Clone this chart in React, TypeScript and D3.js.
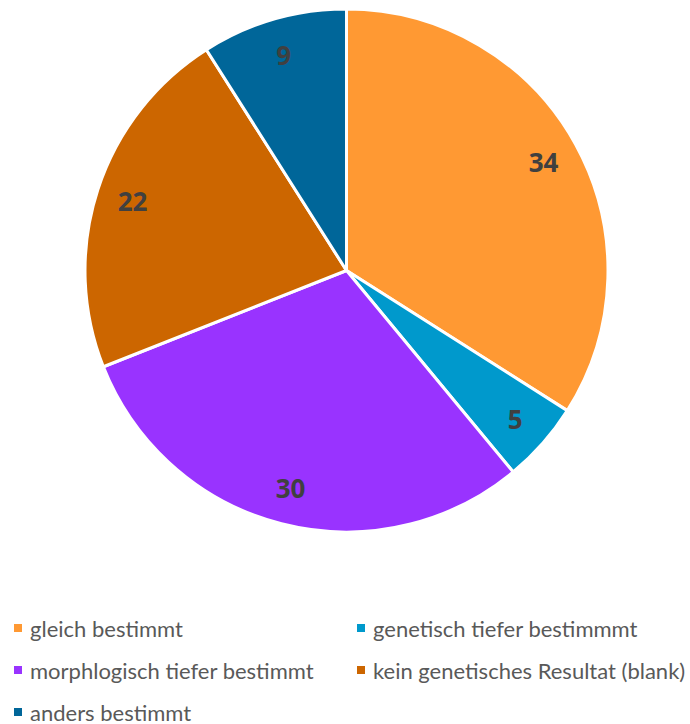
import React from "react";
import * as d3 from "d3";

const categories = [
  "gleich bestimmt",
  "genetisch tiefer bestimmmt",
  "morphlogisch tiefer bestimmt",
  "kein genetisches Resultat (blank)",
  "anders bestimmt",
];
const values = [34, 5, 30, 22, 9];
const colors = ["#FF9933", "#0099CC", "#9933FF", "#CC6600", "#006699"];

export default function App() {
  const W = 690, H = 724;
  const cx = 346.5, cy = 270.5, R = 261.5;
  const pie = d3.pie<number>().sort(null).value((d) => d)(values);
  const arc = d3.arc<d3.PieArcDatum<number>>().innerRadius(0).outerRadius(R);
  const labelArc = d3.arc<d3.PieArcDatum<number>>().innerRadius(R * 0.86).outerRadius(R * 0.86);
  const legendPos = [
    [14, 628], [357, 628],
    [14, 670], [357, 670],
    [14, 712],
  ];
  return (
    <svg width={W} height={H} style={{ position: "absolute", left: 0, top: 0 }} fontFamily="Lato, 'Open Sans', sans-serif">
      <g transform={`translate(${cx},${cy})`}>
        {pie.map((p, i) => (
          <path key={i} d={arc(p) || ""} fill={colors[i]} stroke="#fff" strokeWidth={3} strokeLinejoin="round" />
        ))}
        {pie.map((p, i) => {
          const [x, y] = labelArc.centroid(p);
          return (
            <text key={i} x={x} y={y} textAnchor="middle" dominantBaseline="central" fontSize={26} fontWeight="bold" fontFamily="'Open Sans', sans-serif" fill="#404040">
              {values[i]}
            </text>
          );
        })}
      </g>
      {categories.map((c, i) => (
        <g key={c} transform={`translate(${legendPos[i][0]},${legendPos[i][1]})`}>
          <rect x={0} y={-4} width={8} height={8} fill={colors[i]} />
          <text x={16} y={0} dominantBaseline="central" fontSize={22} fill="#595959">{c}</text>
        </g>
      ))}
    </svg>
  );
}
